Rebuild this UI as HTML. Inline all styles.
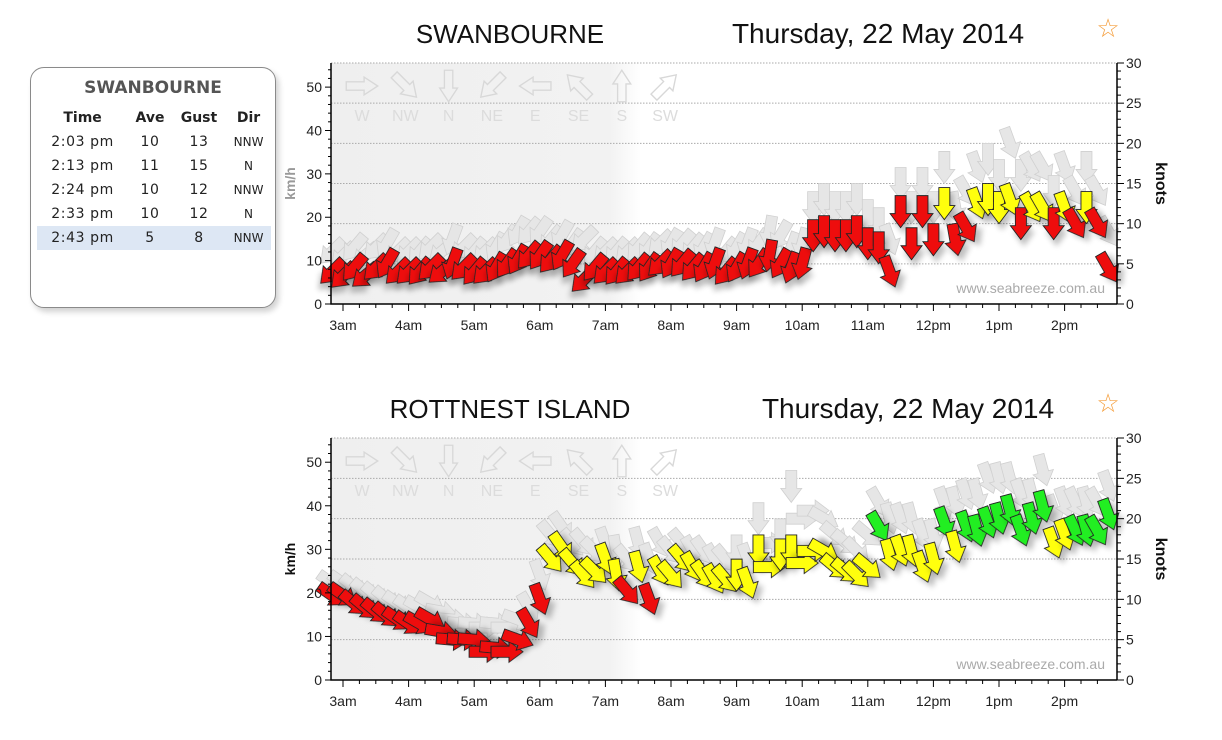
<!DOCTYPE html>
<html><head><meta charset="utf-8">
<style>
body{margin:0;background:#fff;width:1222px;height:740px;overflow:hidden;font-family:"Liberation Sans",sans-serif}
#panel{position:absolute;left:30px;top:67px;width:244px;height:239px;border:1.5px solid #8a8a8a;border-radius:14px;background:#fff;box-shadow:3px 4px 6px rgba(0,0,0,0.18);font-family:"DejaVu Sans","Liberation Sans",sans-serif}
#panel h3{margin:0;position:absolute;top:10px;width:100%;text-align:center;font-size:17px;color:#555;font-weight:bold}
#panel table{position:absolute;left:6px;top:38px;width:234px;border-collapse:collapse;font-size:14px;color:#222}
#panel th{font-weight:bold;height:22px;font-size:14px}
#panel td{height:22px;text-align:center;letter-spacing:0.6px}
#panel td.dir{font-size:12px;letter-spacing:0}
#panel tr.hl td{background:#dde7f4}
</style></head><body>
<div id="panel">
<h3>SWANBOURNE</h3>
<table>
<tr><th>Time</th><th>Ave</th><th>Gust</th><th>Dir</th></tr>
<tr><td>2:03 pm</td><td>10</td><td>13</td><td class="dir">NNW</td></tr>
<tr><td>2:13 pm</td><td>11</td><td>15</td><td class="dir">N</td></tr>
<tr><td>2:24 pm</td><td>10</td><td>12</td><td class="dir">NNW</td></tr>
<tr><td>2:33 pm</td><td>10</td><td>12</td><td class="dir">N</td></tr>
<tr class="hl"><td>2:43 pm</td><td>5</td><td>8</td><td class="dir">NNW</td></tr>
</table></div>
<svg id="svg" width="1222" height="740" style="position:absolute;left:0;top:0" xmlns="http://www.w3.org/2000/svg">
<defs>
<linearGradient id="shade" x1="0" x2="1" y1="0" y2="0">
<stop offset="0" stop-color="#efefef"/><stop offset="0.9" stop-color="#f2f2f2"/><stop offset="1" stop-color="#fff"/>
</linearGradient>
<filter id="sh" x="-50%" y="-50%" width="200%" height="200%"><feGaussianBlur in="SourceAlpha" stdDeviation="3"/><feOffset dx="3" dy="6"/><feComponentTransfer><feFuncA type="linear" slope="0.25"/></feComponentTransfer><feMerge><feMergeNode/><feMergeNode in="SourceGraphic"/></feMerge></filter>
</defs>
</svg>
<script>
// Time: first reading 2:50am, 10-minute steps (72 readings)
const startHour = 2 + 50/60;
const stepHours = 10/60;
const xLabels = ["3am","4am","5am","6am","7am","8am","9am","10am","11am","12pm","1pm","2pm"];
const kmhTicks = [0,10,20,30,40,50];
const knotTicks = [0,5,10,15,20,25,30];
const compassLabels = ["W","NW","N","NE","E","SE","S","SW"];
const compassDirs = [270,315,0,45,90,135,180,225];

const swanAve = [4,3.5,4.5,3.5,4.5,5,4,4,4,4.5,4,5,4.5,4,4,4.5,5,5.5,6,6,
 5.5,6,5,3,4.5,4,4,4,4.5,4.5,5,5,5,4.5,4.5,5,4,4.5,5,5,6,5,4.5,5,8.5,9,8.5,8.5,9,7.5,7,4,11.5,7.5,11.5,8,12.5,8,9.5,12.5,13,12,13,10,12,12,10,12,10,12,10,4.5];
const swanGust = [6.5,6,7,6,7,7.5,6.5,6.5,6.5,7,6.5,8,7,6.5,6.5,7,8,9,9,9,
 8,8.5,7.5,8,6.5,6.5,6.5,6.5,7,7,7.5,7.5,7.5,7,7,7.5,6.5,7,7.5,7.5,9,8.5,7,7.5,12,13,12,12,13,11,10,8,15,12,15,12,17,12,14,17,18,16,20,16,17,17,14,17,14,17,14,9];
const swanDir = [45,45,40,50,45,30,45,45,40,45,50,20,45,40,45,30,35,30,40,35,
 40,30,35,45,40,45,40,45,40,35,45,30,40,40,30,20,40,30,20,35,10,30,20,15,0,0,0,0,0,0,0,340,0,0,0,0,0,350,330,340,0,0,340,0,330,330,0,340,330,0,330,330];

const rottAve = [10.5,10.5,9.5,9,8.5,8,7.5,7,7,7.5,6,5,5,5,3.5,4,3.5,5,7,10,
 15,16.5,14.5,13,13.5,15,13,11,14,10,13.5,13,15,14,13,12.5,12.5,13,12,16,14,15.5,16,14.5,16,16,14,13.5,13,14,19,15.5,16,16,14,15,19.5,16.5,19,18.5,19.5,20,21,18.5,20,21.5,17,18,18.5,18.5,18.5,20.5];
const rottGust = [12,12,11.5,11,10.5,10,9.5,9,9,9.5,8.5,7.5,7,7,6.5,7,6.5,7.5,9,13,
 18,19,17,17,16,17,16,15,17,15,17,16,17,16,16,15,15,16,15,20,17,18,24,20,21,20,18,17,16,18,22,20,20,20,18,18,22,22,23,23,25,25,25,23,23,26,21,22,22,22,22,24];
const rottDir = [305,305,310,310,310,310,305,305,300,300,280,275,275,275,270,275,270,290,330,340,
 320,325,320,320,315,340,350,320,345,340,330,320,320,330,325,330,320,0,340,0,270,0,0,270,270,300,310,310,315,310,330,345,340,345,340,345,340,345,340,345,340,345,345,340,345,345,340,340,335,345,330,340];

const NS="http://www.w3.org/2000/svg";
const svg=document.getElementById('svg');
function el(tag,attrs,parent){const e=document.createElementNS(NS,tag);for(const k in attrs)e.setAttribute(k,attrs[k]);(parent||svg).appendChild(e);return e;}
const X0=331,X1=1117;
function xOf(h){return 343+(h-3)*65.6;}
const ARROW="M-4,-15 L4,-15 L4,2 L8.5,2 L0,15 L-8.5,2 L-4,2 Z";
const DATA_ARROW="M-5.5,-16 L5.5,-16 L5.5,2 L10.5,2 L0,16 L-10.5,2 L-5.5,2 Z";

function chart(cfg){
  const y0=cfg.y0, yT=cfg.yT, k=(y0-yT)/30;
  const yK=v=>y0-v*k;
  const g=el('g',{});
  
  
  const sh=el('rect',{x:X0,y:yT,width:310,height:y0-yT,fill:'url(#shade)'},g);
  
  
  for(let v=5;v<=30;v+=5){
    const l=el('line',{x1:X0,x2:X1,y1:yK(v),y2:yK(v),stroke:'#aaa','stroke-dasharray':'1.5,1.5','stroke-width':1},g);
    
    
  }
  compassLabels.forEach((lab,i)=>{
    const cx=362+i*43.3, cy=yT+23;
    const a=el('path',{d:ARROW,transform:`translate(${cx},${cy}) rotate(${compassDirs[i]}) scale(1.05)`,fill:'none',stroke:'#d8d8d8','stroke-width':1.3},g);
    
    
    const t=el('text',{x:cx,y:yT+58,'text-anchor':'middle','font-size':16,fill:'#dcdcdc'},g);
    t.textContent=lab;
    
    
  });
  const w=el('text',{x:1105,y:y0-11,'text-anchor':'end','font-size':14,fill:'#aaa'},g);
  w.textContent='www.seabreeze.com.au';
  
  
  cfg.gust.forEach((v,i)=>{
    const a=el('path',{d:DATA_ARROW,transform:`translate(${xOf(startHour+i*stepHours)},${yK(v)}) rotate(${cfg.dir[i]})`,fill:'#e6e6e6',stroke:'#d0d0d0','stroke-width':0.8},g);
    
    
  });
  cfg.ave.forEach((v,i)=>{
    const col=v>=cfg.green?'#22ee22':(v>=12?'#ffff11':'#ee1111');
    const a=el('path',{d:DATA_ARROW,transform:`translate(${xOf(startHour+i*stepHours)},${yK(v)}) rotate(${cfg.dir[i]})`,fill:col,stroke:'#222','stroke-width':0.9,filter:'url(#sh)'},g);
    
    
  });
  const ax=el('path',{d:`M${X0},${yT} L${X0},${y0} L${X1},${y0} M${X1},${yT} L${X1},${y0}`,stroke:'#000','stroke-width':1.5,fill:'none'},g);
  
  
  for(let v=0;v<=30;v++){
    el('line',{x1:X1,x2:X1+(v%5?4:7),y1:yK(v),y2:yK(v),stroke:'#000'},g);
  }
  knotTicks.forEach(v=>{
    const t=el('text',{x:X1+9,y:yK(v)+5,'font-size':14,fill:'#222'},g);t.textContent=v;
    
    
  });
  for(let v=0;v<=54;v+=2){
    const y=y0-v/1.852*k;
    el('line',{x1:X0-(v%10?3:6),x2:X0,y1:y,y2:y,stroke:'#000'},g);
  }
  kmhTicks.forEach(v=>{
    const t=el('text',{x:X0-9,y:y0-v/1.852*k+5,'font-size':14,fill:'#222','text-anchor':'end'},g);t.textContent=v;
    
    
  });
  for(let m=0;m<=47;m++){
    const h=2.75+m*0.25, x=xOf(h);
    if(x<X0||x>X1)continue;
    el('line',{x1:x,x2:x,y1:y0,y2:y0+(m%4==1?7:4),stroke:'#000'},g);
  }
  xLabels.forEach((lab,i)=>{
    const t=el('text',{x:xOf(3+i),y:y0+26,'font-size':14,fill:'#222','text-anchor':'middle'},g);t.textContent=lab;
    
    
  });
  const yl=el('text',{x:0,y:0,transform:`translate(295,${(y0+yT)/2}) rotate(-90)`,'font-size':14,'font-weight':'bold',fill:cfg.kmhColor,'text-anchor':'middle'},g);
  yl.textContent='km/h';
  
  
  const yr=el('text',{x:0,y:0,transform:`translate(1156,${(y0+yT)/2}) rotate(90)`,'font-size':16,'font-weight':'bold',fill:'#111','text-anchor':'middle'},g);
  yr.textContent='knots';
  
  
  const t1=el('text',{x:cfg.tx,y:yT-20,'font-size':26,fill:'#111','text-anchor':'middle'},g);t1.textContent=cfg.title;
  
  
  const t2=el('text',{x:cfg.dx,y:yT-20,'font-size':28,fill:'#111','text-anchor':'middle'},g);t2.textContent='Thursday, 22 May 2014';
  
  
  const st=el('text',{x:1108,y:yT-26,'font-size':26,fill:'#f5a040','text-anchor':'middle'},g);st.textContent='☆';
  
  
}
chart({name:'swanbourne-chart',y0:304,yT:63,ave:swanAve,gust:swanGust,dir:swanDir,green:99,title:'SWANBOURNE',tx:510,dx:878,kmhColor:'#999'});
chart({name:'rottnest-chart',y0:680,yT:438,ave:rottAve,gust:rottGust,dir:rottDir,green:18.5,title:'ROTTNEST ISLAND',tx:510,dx:908,kmhColor:'#111'});
</script>
</body></html>
